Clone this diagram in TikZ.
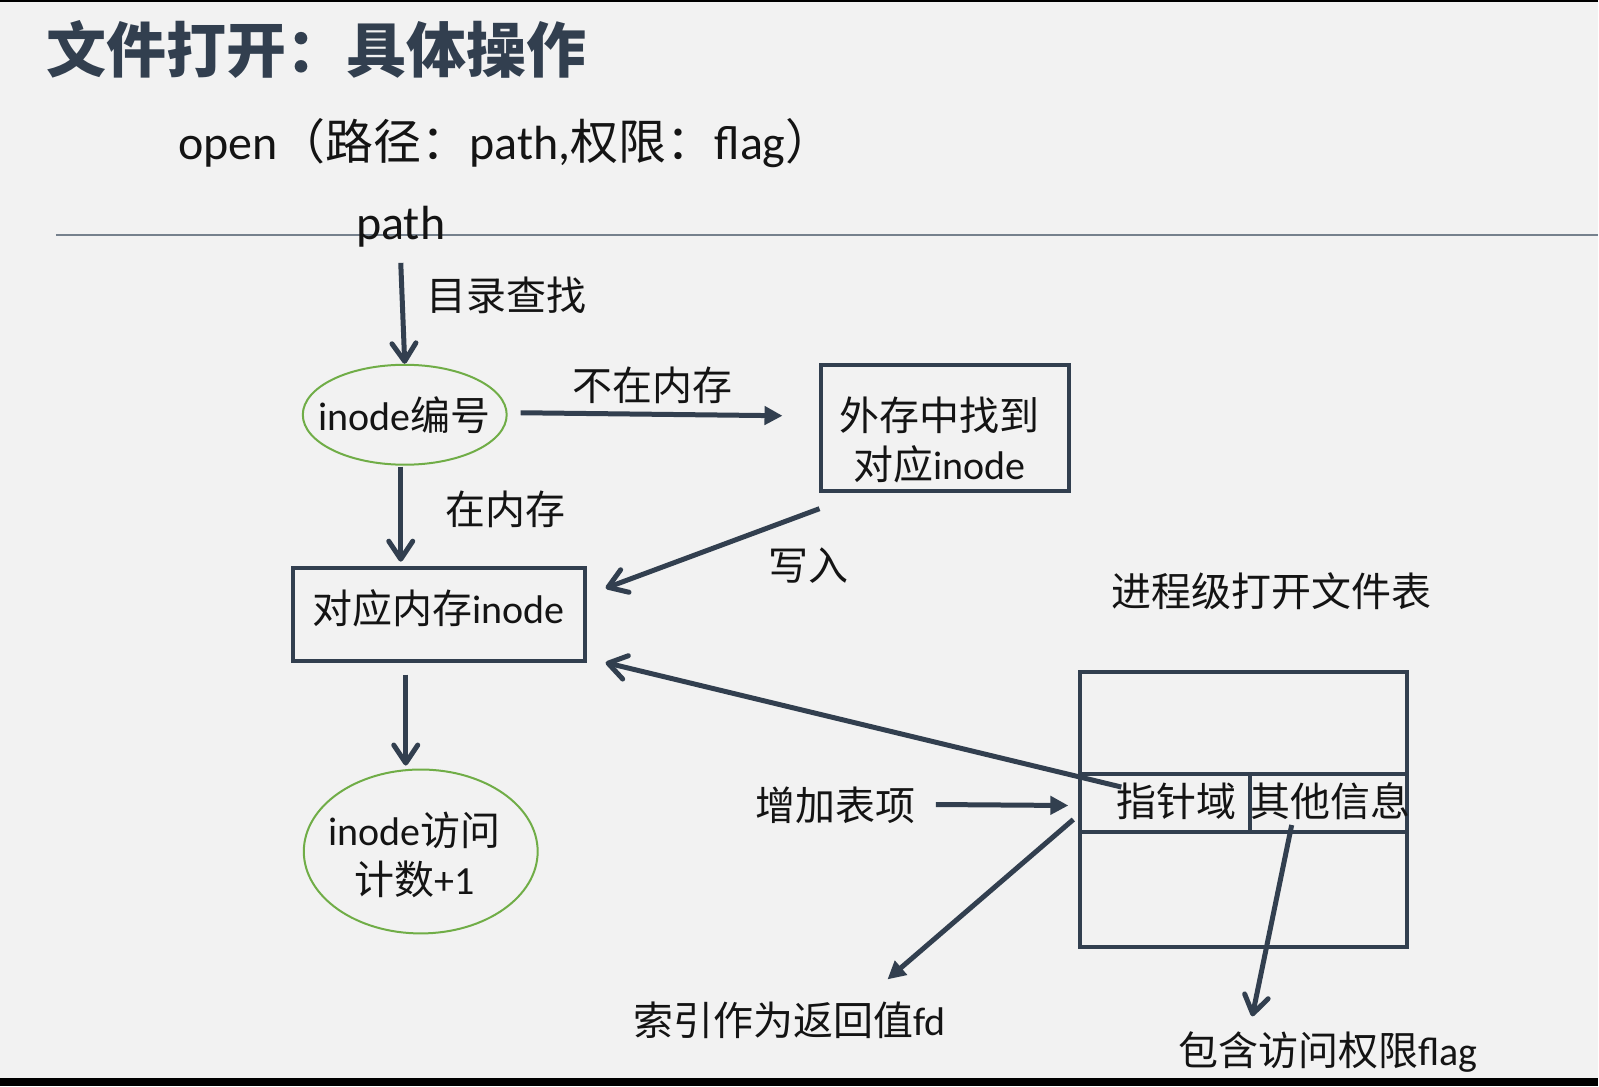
\documentclass[tikz,border=0pt]{standalone}
\usepackage{fontspec}
\setmainfont{Carlito}
\newfontfamily\cjk{Noto Sans CJK SC}
\usetikzlibrary{arrows.meta,shapes.geometric,calc}
\definecolor{bg}{HTML}{F2F2F2}
\definecolor{slate}{HTML}{323F4F}
\definecolor{rulec}{HTML}{76818D}
\definecolor{grn}{HTML}{70AD47}
\definecolor{ink}{HTML}{141414}
\newcommand{\C}[1]{{\cjk #1}}
\begin{document}
\begin{tikzpicture}[x=0.5pt,y=-0.5pt,
  lbl/.style={inner sep=0,text=ink,align=center,font=\fontsize{20}{24.5}\selectfont},
  barb/.style={draw=slate,line width=2.5pt,-{Straight Barb[round,length=9pt,width=12pt]}},
  tri/.style={draw=slate,line width=2.5pt,-{Triangle[length=9pt,width=9pt]}},
  boxn/.style={draw=slate,line width=2pt,inner sep=0},
  ell/.style={ellipse,draw=grn,line width=1pt,inner sep=0},
  cell/.style={draw=slate,line width=2pt,inner sep=0}]
\fill[bg] (0,0) rectangle (1599,1087);
\fill[black] (0,0) rectangle (1599,2);
\fill[black] (0,1079) rectangle (1599,1087);
% title and subtitle
\node[anchor=west,inner sep=0,text=slate,font=\cjk\bfseries\fontsize{30}{36}\selectfont] (title) at (46,50) {文件打开：具体操作};
\node[anchor=west,inner sep=0,text=ink,font=\fontsize{24}{28}\selectfont] (sub) at (178,143) {open\C{（路径：}path,\C{权限：}flag\C{）}};
\draw[rulec,line width=1pt] (56,235) -- (1599,235);
% nodes
\node[lbl,font=\fontsize{24}{28}\selectfont] (path) at (401,227) {path};
\node[lbl] (dir) at (507,296) {\C{目录查找}};
\node[ell,minimum width=102pt,minimum height=50pt] (ino) at (405,415) {};
\node[lbl] (inot) at (405,415) {inode\C{编号}};
\node[lbl] (notm) at (653,386) {\C{不在内存}};
\node[boxn,minimum width=124pt,minimum height=63pt] (disk) at (946,428) {};
\node[lbl] (diskt) at (940,440) {\C{外存中找到}\\\C{对应}inode};
\node[lbl] (inm) at (506,510) {\C{在内存}};
\node[boxn,minimum width=146pt,minimum height=46.5pt] (mem) at (439,614.5) {};
\node[lbl] (memt) at (439,609) {\C{对应内存}inode};
\node[lbl] (wr) at (809,566) {\C{写入}};
\node[ell,minimum width=117pt,minimum height=82pt] (cnt) at (421,852) {};
\node[lbl] (cntt) at (415,855) {inode\C{访问}\\\C{计数}+1};
\node[lbl] (ptab) at (1272,592) {\C{进程级打开文件表}};
% table
\node[cell,minimum width=163.5pt,minimum height=138pt] (tbl) at (1244.5,810) {};
\node[cell,minimum width=85pt,minimum height=29.5pt] (ptr) at (1166,803.5) {};
\node[cell,minimum width=78.5pt,minimum height=29.5pt] (oth) at (1329.5,803.5) {};
\node[lbl] (add) at (836,806) {\C{增加表项}};
\node[lbl] (fd) at (790,1021) {\C{索引作为返回值}fd};
\node[lbl] (flag) at (1329,1053) {\C{包含访问权限}flag};
% connectors
\draw[barb] ($(path)+(0,36)$) -- (ino.north);
\draw[tri] ($(ino.east)+(13,-2)$) -- ($(disk.west)+(-37,-12)$);
\draw[barb] ($(ino.south)+(-4,1)$) -- ($(mem.north)+(-38,-4)$);
\draw[barb] ($(disk.south west)+(0,16)$) -- ($(mem.east)+(19,-26)$);
\draw[barb] ($(ptr)+(-44,-16)$) -- ($(mem.south east)+(19,0)$);
\draw[barb] ($(mem.south)+(-33,12)$) -- ($(cnt.north)+(-15,-3)$);
\draw[tri] ($(add.east)+(20,-1)$) -- ($(tbl.west)+(-10,-4)$);
\draw[tri] ($(tbl.west)+(-5,10)$) -- ($(fd)+(98,-41)$);
\draw[barb] ($(oth)+(-37,22)$) -- ($(flag)+(-76,-36)$);
% cell texts on top
\node[lbl] (ptrt) at (1177,802) {\C{指针域}};
\node[lbl] (otht) at (1331,802) {\C{其他信息}};
\end{tikzpicture}
\end{document}
